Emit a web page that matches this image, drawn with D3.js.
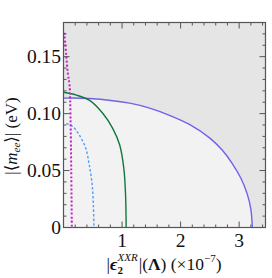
<!DOCTYPE html>
<html>
<head>
<meta charset="utf-8">
<script src="https://cdn.jsdelivr.net/npm/d3@7"></script>
<style>
    body { margin: 0; background: #fff; }
    svg { display: block; }
</style>
</head>
<body>
<div class="wrapper"></div>
<script>
// curve data (x in 1e-7, y in eV)
let purpleX = [0, 0.44, 1.13, 1.47, 1.81, 2.15, 2.5, 2.71, 2.88, 3.03, 3.14, 3.2, 3.225];
let purpleY = [0.1136, 0.1133, 0.1092, 0.1048, 0.0985, 0.0905, 0.0785, 0.068, 0.0564, 0.0432, 0.0291, 0.016, 0];

let greenX = [0, 0.22, 0.44, 0.67, 0.84, 0.96, 1.03, 1.06, 1.07];
let greenY = [0.1187, 0.1163, 0.1118, 0.1003, 0.0871, 0.0725, 0.0521, 0.0287, 0];

let blueX = [0.05, 0.16, 0.27, 0.38, 0.44, 0.49, 0.51, 0.52];
let blueY = [0.0915, 0.0885, 0.0812, 0.0696, 0.055, 0.0374, 0.0199, 0];

let magentaX = [0.015, 0.046, 0.074, 0.103, 0.12, 0.132, 0.142];
let magentaY = [0.171, 0.1514, 0.1353, 0.1251, 0.0959, 0.052, 0];

let xMajor = [1, 2, 3];
let xMajorLabels = ["1", "2", "3"];
let yMajor = [0, 0.05, 0.10, 0.15];
let yMajorLabels = ["0", "0.05", "0.10", "0.15"];

let width = 272;
let height = 278;
let padL = 63.5, padR = 265.5, padT = 22.5, padB = 227.5;
let font = "'Liberation Serif', 'DejaVu Serif', serif";

let x = d3.scaleLinear().domain([0, 3.45]).range([padL, padR]);
let y = d3.scaleLinear().domain([0, 0.18]).range([padB, padT]);

function zip(xs, ys) {
    return xs.map((v, i) => [v, ys[i]]);
}

let xMinor = d3.range(0.2, 3.45, 0.2).filter(v => xMajor.every(m => Math.abs(m - v) > 1e-6));
let yMinor = d3.range(0.01, 0.18, 0.01).filter(v => yMajor.every(m => Math.abs(m - v) > 1e-6));

let svg = d3.select(".wrapper")
    .append("svg")
    .attr("width", width)
    .attr("height", height);

svg.append("defs").append("clipPath")
    .attr("id", "plotClip")
    .append("rect")
    .attr("x", padL).attr("y", padT)
    .attr("width", padR - padL).attr("height", padB - padT);

// background
svg.append("rect")
    .attr("x", padL).attr("y", padT)
    .attr("width", padR - padL).attr("height", padB - padT)
    .attr("fill", "#e5e5e5");

let plot = svg.append("g").attr("clip-path", "url(#plotClip)");

let line = d3.line()
    .x(d => x(d[0]))
    .y(d => y(d[1]))
    .curve(d3.curveCatmullRom.alpha(0.5));

let area = d3.area()
    .x(d => x(d[0]))
    .y0(y(0))
    .y1(d => y(d[1]))
    .curve(d3.curveCatmullRom.alpha(0.5));

let purple = zip(purpleX, purpleY);

plot.append("path")
    .datum(purple)
    .attr("d", area)
    .attr("fill", "#f2f2f2");

plot.append("path")
    .datum(purple)
    .attr("d", line)
    .attr("fill", "none")
    .attr("stroke", "#6f62e8")
    .attr("stroke-width", 1.4);

plot.append("path")
    .datum(zip(greenX, greenY))
    .attr("d", line)
    .attr("fill", "none")
    .attr("stroke", "#13773c")
    .attr("stroke-width", 1.4);

plot.append("path")
    .datum(zip(blueX, blueY))
    .attr("d", line)
    .attr("fill", "none")
    .attr("stroke", "#4d9cff")
    .attr("stroke-width", 1.4)
    .attr("stroke-dasharray", "2.5,2");

plot.append("path")
    .datum(zip(magentaX, magentaY))
    .attr("d", line)
    .attr("fill", "none")
    .attr("stroke", "#c21fc4")
    .attr("stroke-width", 2)
    .attr("stroke-dasharray", "2,2");

// ticks, inside on all four sides
let tickColor = "#555";
let ticks = svg.append("g").attr("stroke", tickColor).attr("stroke-width", 1);

function vTicks(vals, len) {
    vals.forEach(v => {
        ticks.append("line").attr("x1", x(v)).attr("x2", x(v)).attr("y1", padB).attr("y2", padB - len);
        ticks.append("line").attr("x1", x(v)).attr("x2", x(v)).attr("y1", padT).attr("y2", padT + len);
    });
}
function hTicks(vals, len) {
    vals.forEach(v => {
        ticks.append("line").attr("x1", padL).attr("x2", padL + len).attr("y1", y(v)).attr("y2", y(v));
        ticks.append("line").attr("x1", padR).attr("x2", padR - len).attr("y1", y(v)).attr("y2", y(v));
    });
}
vTicks(xMajor, 6);
vTicks(xMinor, 3);
hTicks(yMajor.filter(v => v > 0), 6);
hTicks(yMinor, 3);

// frame
svg.append("rect")
    .attr("x", padL).attr("y", padT)
    .attr("width", padR - padL).attr("height", padB - padT)
    .attr("fill", "none")
    .attr("stroke", tickColor)
    .attr("stroke-width", 1.2);

// tick labels
svg.selectAll(".xlab")
    .data(xMajor)
    .enter()
    .append("text")
    .style("font-family", font)
    .attr("x", d => x(d))
    .attr("y", 247)
    .attr("text-anchor", "middle")
    .attr("font-size", 19.5)
    .attr("fill", "#111")
    .text((d, i) => xMajorLabels[i]);

svg.selectAll(".ylab")
    .data(yMajor)
    .enter()
    .append("text")
    .style("font-family", font)
    .attr("x", padL - 2.5)
    .attr("y", d => y(d) + 6.8)
    .attr("text-anchor", "end")
    .attr("font-size", 19.5)
    .attr("fill", "#111")
    .text((d, i) => yMajorLabels[i]);

// x title, built piece by piece so the sub/superscript can stack
let xTitle = svg.append("g");
let cursor = 0;
let baseY = 270;

function piece(str, size, dy, opts) {
    let t = xTitle.append("text")
        .style("font-family", font)
        .attr("x", cursor)
        .attr("y", baseY + dy)
        .attr("font-size", size)
        .attr("fill", "#111")
        .text(str);
    if (opts && opts.italic) t.attr("font-style", "italic");
    if (opts && opts.bold) t.attr("font-weight", "bold");
    return t.node().getComputedTextLength();
}

cursor += piece("|", 17.5, 0);
cursor += piece("ϵ", 17.5, 0, {italic: true, bold: true});
let wSub = piece("2", 11, 4, {bold: true});
let wSup = piece("XXR", 11, -9, {italic: true});
cursor += Math.max(wSub, wSup) + 1;
cursor += piece("|(", 17.5, 0);
cursor += piece("Λ", 17.5, 0, {bold: true});
cursor += piece(")  (×10", 17.5, 0);
cursor += piece("−7", 11, -8);
cursor += piece(")", 17.5, 0);
xTitle.attr("transform", "translate(" + (164 - cursor / 2) + ",0)");

let yt = svg.append("text")
    .style("font-family", font)
    .attr("transform", "translate(17," + 136 + ") rotate(-90)")
    .attr("text-anchor", "middle")
    .attr("font-size", 17)
    .attr("fill", "#111");
yt.append("tspan").text("|⟨");
yt.append("tspan").attr("font-style", "italic").text("m");
yt.append("tspan").attr("font-style", "italic").attr("font-size", 11).attr("dy", 3).text("ee");
yt.append("tspan").attr("dy", -3).text("⟩|  (eV)");
</script>
</body>
</html>
